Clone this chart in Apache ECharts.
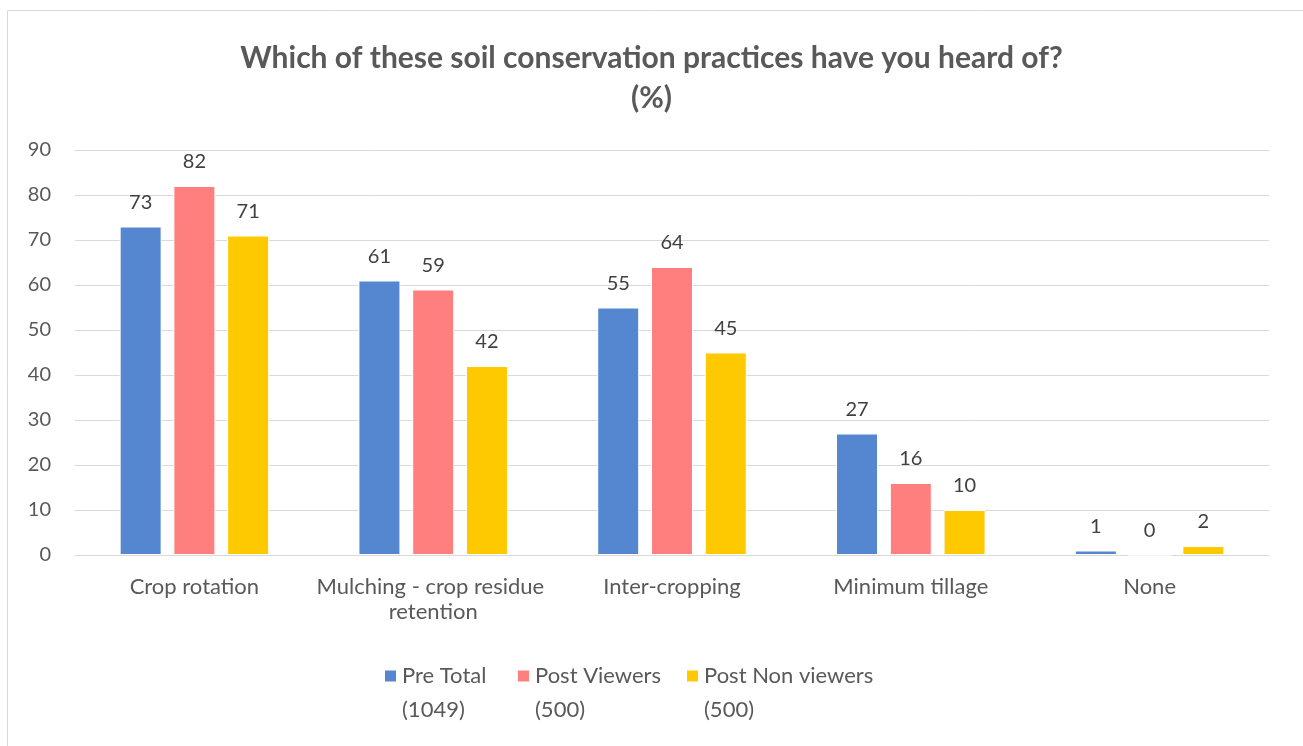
<!DOCTYPE html>
<html>
<head>
<meta charset="utf-8">
<script src="https://cdn.jsdelivr.net/npm/echarts@6/dist/echarts.min.js"></script>
<style>
  html, body { margin: 0; padding: 0; background: #fff; }
  #chart { width: 1303px; height: 746px; }
</style>
</head>
<body>
<div id="chart"></div>
<script>
// Survey awareness of soil conservation practices (%)
const categories = ['Crop rotation', 'Mulching - crop residue retention', 'Inter-cropping', 'Minimum tillage', 'None'];
const seriesNames = ['Pre Total\n(1049)', 'Post Viewers\n(500)', 'Post Non viewers\n(500)'];
const preTotal = [73, 61, 55, 27, 1];
const postViewers = [82, 59, 64, 16, 0];
const postNonViewers = [71, 42, 45, 10, 2];
const yTicks = { min: 0, max: 90, interval: 10 };

const colors = ['#5587D0', '#FF7F7E', '#FFC900'];
const FONT = 'Lato';
const values = [preTotal, postViewers, postNonViewers];

const legendLefts = [378, 511, 680];

const chart = echarts.init(document.getElementById('chart'));
chart.setOption({
  animation: false,
  textStyle: { fontFamily: FONT },
  title: {
    text: 'Which of these soil conservation practices have you heard of?\n(%)',
    left: 'center',
    top: 33,
    textStyle: { fontFamily: FONT, fontWeight: 'bold', fontSize: 30, color: '#595959', lineHeight: 40 }
  },
  graphic: [{
    type: 'rect',
    shape: { x: 7.5, y: 10.5, width: 1320, height: 760 },
    style: { fill: 'none', stroke: '#d9d9d9', lineWidth: 1 },
    silent: true
  }],
  legend: seriesNames.map((n, i) => ({
    data: [n],
    left: legendLefts[i],
    top: 620,
    itemWidth: 13,
    itemHeight: 13,
    itemGap: 0,
    icon: 'rect',
    selectedMode: false,
    // leading blank line keeps the marker level with the first text line
    formatter: name => '\n' + name,
    textStyle: { fontFamily: FONT, fontSize: 22, color: '#595959', lineHeight: 34 }
  })),
  grid: { left: 75, right: 34, top: 150, bottom: 191, containLabel: false },
  xAxis: {
    type: 'category',
    data: categories,
    axisLine: { lineStyle: { color: '#d9d9d9', width: 1 } },
    axisTick: { show: false },
    axisLabel: {
      fontFamily: FONT, fontSize: 22, color: '#595959', margin: 19,
      width: 236, overflow: 'break', lineHeight: 25, interval: 0
    }
  },
  yAxis: {
    type: 'value',
    min: yTicks.min, max: yTicks.max, interval: yTicks.interval,
    axisLine: { show: false },
    axisTick: { show: false },
    splitLine: { lineStyle: { color: '#d9d9d9', width: 1 } },
    axisLabel: { fontFamily: FONT, fontSize: 20, color: '#595959', margin: 24 }
  },
  series: seriesNames.map((n, i) => ({
    name: n,
    type: 'bar',
    data: values[i],
    barWidth: 42,
    barGap: '28%',
    itemStyle: { color: colors[i], borderColor: '#ffffff', borderWidth: 1 },
    label: {
      show: true, position: 'top', distance: 14,
      fontFamily: FONT, fontSize: 20, color: '#404040'
    }
  }))
});
</script>
</body>
</html>
